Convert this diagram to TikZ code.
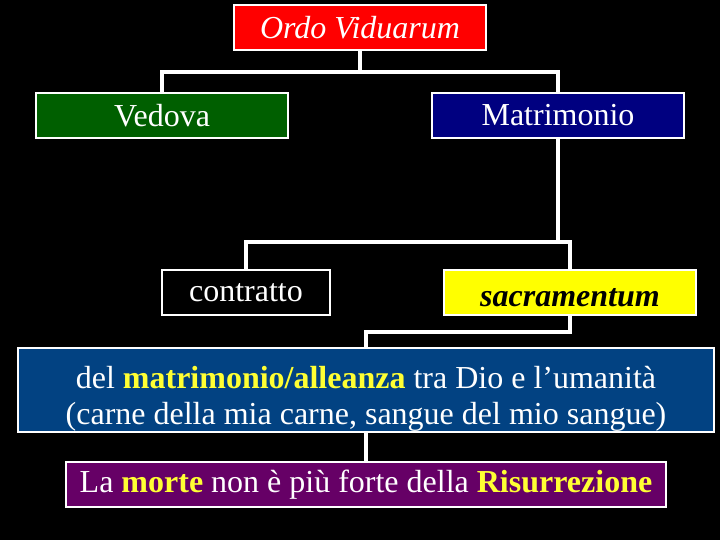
\documentclass[tikz,border=0pt]{standalone}
\usepackage{fontspec}
\setmainfont{Liberation Serif}
\definecolor{ordored}{HTML}{FF0000}
\definecolor{vgreen}{HTML}{005F00}
\definecolor{mblue}{HTML}{000080}
\definecolor{syellow}{HTML}{FFFF00}
\definecolor{bigblue}{HTML}{024282}
\definecolor{mpurple}{HTML}{660066}
\definecolor{hilite}{HTML}{FFFF33}
\tikzset{
  box/.style={draw=white, line width=2pt, rectangle, inner sep=0pt, text=white,
    font=\fontsize{32}{36}\selectfont, minimum height=45pt},
  conn/.style={draw=white, line width=3.5pt}
}
\begin{document}
\begin{tikzpicture}[x=1pt,y=-1pt]
\fill[black] (0,0) rectangle (720,540);
\useasboundingbox (0,0) rectangle (720,540);
\node[box, fill=ordored, minimum width=252pt] (ordo) at (360,27.5) {\itshape Ordo Viduarum};
\node[box, fill=vgreen, minimum width=252pt] (vedova) at (162,115.5) {Vedova};
\node[box, fill=mblue, minimum width=252pt] (matr) at (558,115.5) {Matrimonio};
\node[box, fill=black, minimum width=168pt] (contr) at (246,292.5) {contratto};
\node[box, fill=syellow, text=black, minimum width=252pt] (sacr) at (570,292.5) {\rule{0pt}{28pt}\bfseries\itshape sacramentum};
\node[box, fill=bigblue, minimum width=696pt, minimum height=84pt, align=center] (big) at (366,390)
  {\rule{0pt}{39pt}del \textcolor{hilite}{\bfseries matrimonio/alleanza} tra Dio e l’umanità\\(carne della mia carne, sangue del mio sangue)};
\node[box, fill=mpurple, minimum width=600pt] (purple) at (366,484.5)
  {La \textcolor{hilite}{\bfseries morte} non è più forte della \textcolor{hilite}{\bfseries Risurrezione}};
\coordinate (j1) at (360,72);
\coordinate (j2) at (558,242);
\coordinate (j3) at (570,332);
\draw[conn] (ordo.south) -- (j1);
\draw[conn] (vedova.north) |- (j1) -| (matr.north);
\draw[conn] (matr.south) -- (j2);
\draw[conn] (contr.north) |- (j2) -| (sacr.north);
\draw[conn] (sacr.south) -- (j3) -| (big.north);
\draw[conn] (big.south) -- (purple.north);
\end{tikzpicture}
\end{document}
